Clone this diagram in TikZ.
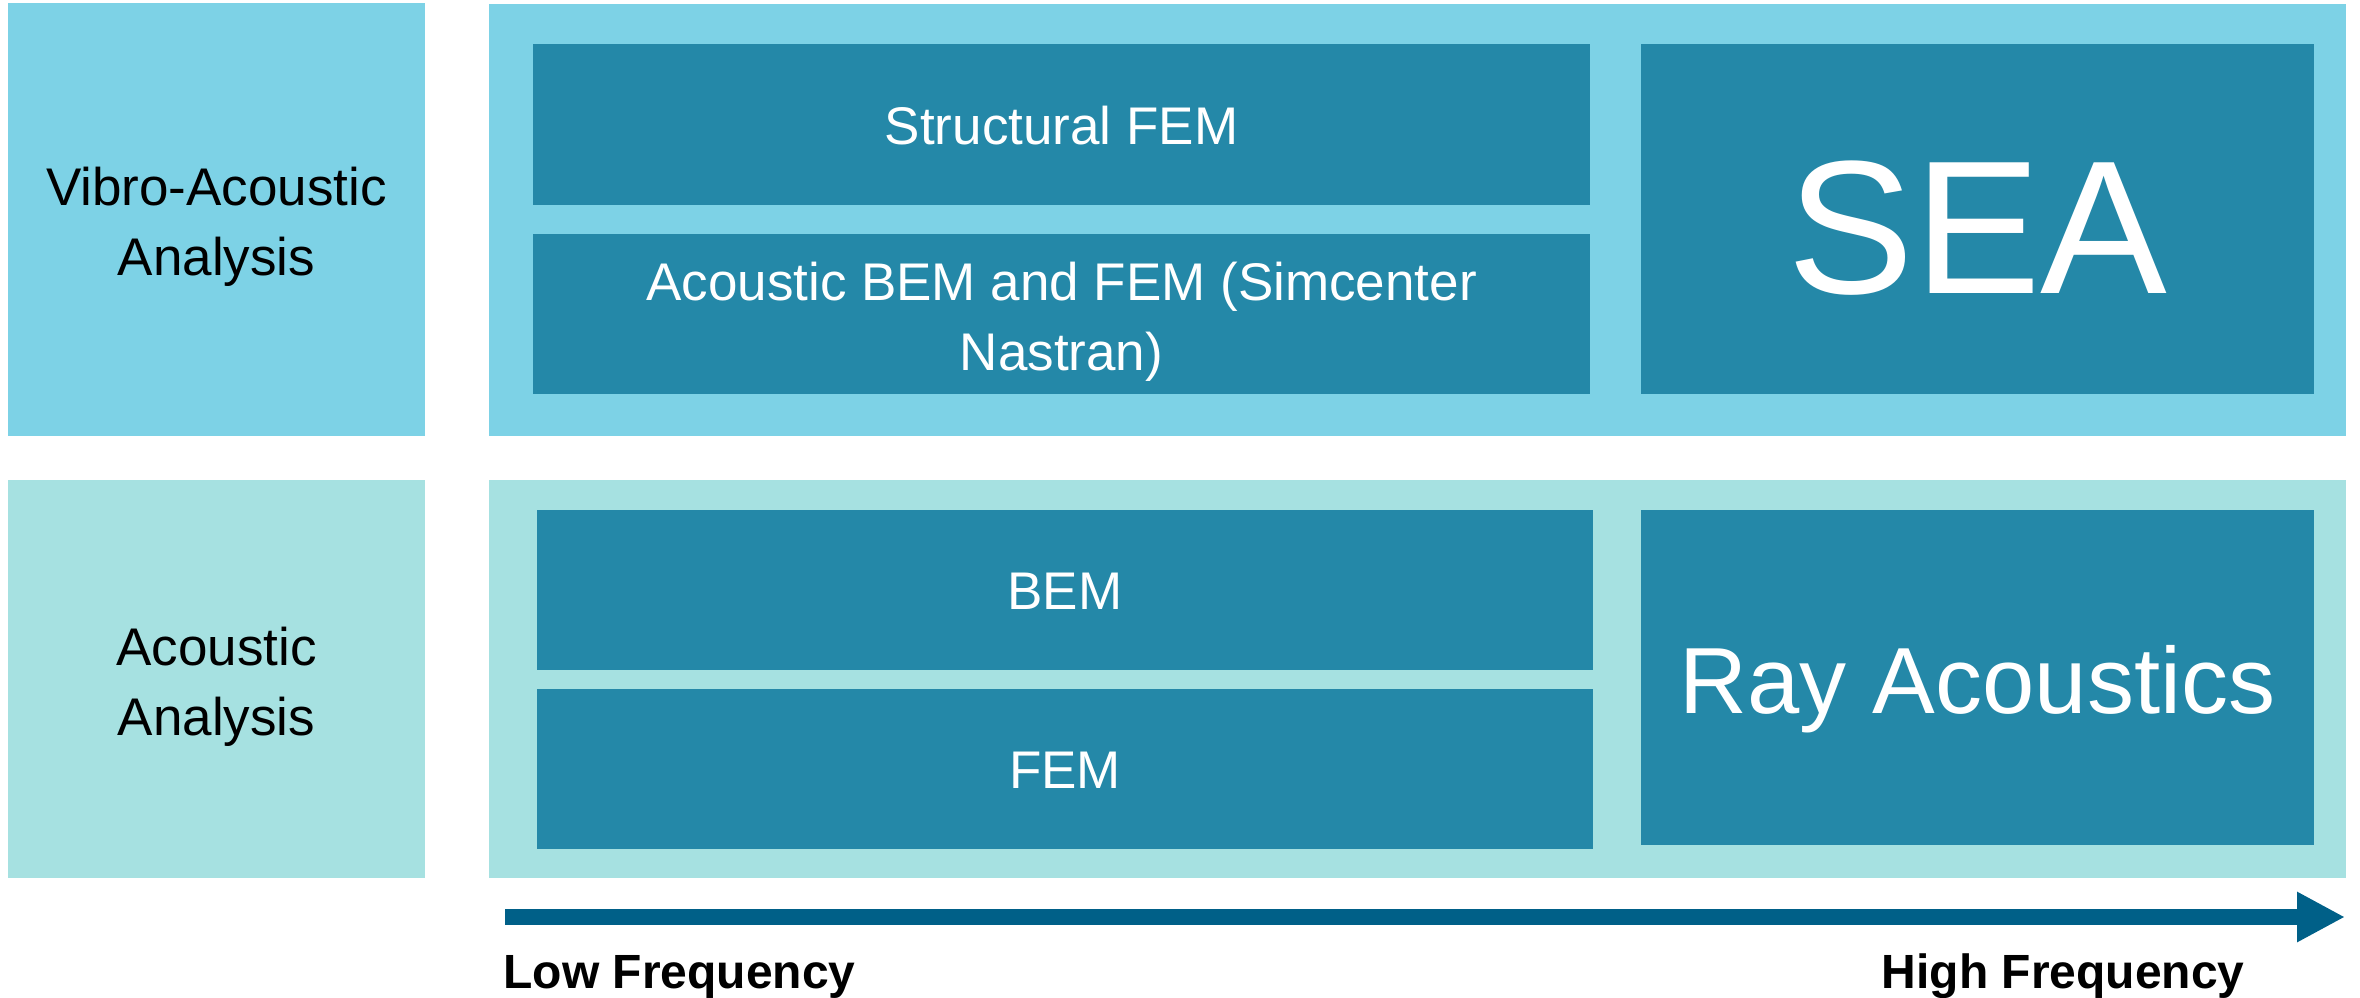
\documentclass[tikz,border=0pt]{standalone}
\usepackage{fontspec}
\setmainfont{Liberation Sans}
\usetikzlibrary{fit,calc,arrows.meta}

\definecolor{vaFill}{HTML}{7DD2E6}
\definecolor{acFill}{HTML}{A6E1E1}
\definecolor{methodFill}{HTML}{2488A8}
\definecolor{freqBlue}{HTML}{006088}

\tikzset{
  box/.style={inner sep=0pt, outer sep=0pt, draw=none},
  vabox/.style={box, fill=vaFill},
  acbox/.style={box, fill=acFill},
  methodbox/.style={box, fill=methodFill},
  rowlabel/.style={inner sep=0pt, anchor=base, align=center, text=black,
    font=\fontsize{26.5}{35}\selectfont},
  methodtext/.style={inner sep=0pt, anchor=base, align=center, text=white,
    font=\fontsize{26.5}{35}\selectfont},
  bigtext/.style={inner sep=0pt, anchor=base, text=white},
  freqtext/.style={inner sep=0pt, text=black, font=\fontsize{24}{28}\selectfont\bfseries},
}

\begin{document}
\begin{tikzpicture}[x=0.5pt, y=-0.5pt]
  \useasboundingbox (0,0) rectangle (2360,997);

  % row headers
  \node[vabox, fit={(8,3) (425,436)}] (vahead) {};
  \node[acbox, fit={(8,480) (425,878)}] (achead) {};

  % row panels
  \node[vabox, fit={(489,4) (2346,436)}] (vapanel) {};
  \node[acbox, fit={(489,480) (2346,878)}] (acpanel) {};

  % method boxes, vibro-acoustic row
  \node[methodbox, fit={(533,44) (1590,205)}] (sfem) {};
  \node[methodbox, fit={(533,234) (1590,394)}] (abem) {};
  \node[methodbox, fit={(1641,44) (2314,394)}] (sea) {};

  % method boxes, acoustic row
  \node[methodbox, fit={(537,510) (1593,670)}] (bem) {};
  \node[methodbox, fit={(537,689) (1593,849)}] (fem) {};
  \node[methodbox, fit={(1641,510) (2314,845)}] (ray) {};

  % texts (two-line nodes sit on the baseline of their last line)
  \node[rowlabel] (vatext) at ($(vahead.center)+(0,55.5)$) {Vibro-Acoustic\\Analysis};
  \node[rowlabel] (actext) at ($(achead.center)+(0,56)$) {Acoustic\\Analysis};
  \node[methodtext] (sfemtext) at ($(sfem.center)+(0,19.5)$) {Structural FEM};
  \node[methodtext] (abemtext) at ($(abem.center)+(0,56)$) {Acoustic BEM and FEM (Simcenter\\Nastran)};
  \node[bigtext, font=\fontsize{95}{100}\selectfont] (seatext) at ($(sea.center)+(0,74)$) {SEA};
  \node[bigtext, font=\fontsize{47}{55}\selectfont] (raytext) at ($(ray.center)+(0,35.5)$) {Ray Acoustics};
  \node[methodtext] (bemtext) at ($(bem.center)+(0,19)$) {BEM};
  \node[methodtext] (femtext) at ($(fem.center)+(0,19)$) {FEM};

  % frequency axis
  \coordinate (low) at (505,917);
  \coordinate (high) at (2345,917);
  \draw[freqBlue, line width=8pt, -{Triangle[length=24pt,width=23.5pt]}] (low) -- (high);
  \node[freqtext, anchor=base west] (lowtext) at (503,988) {Low Frequency};
  \node[freqtext, anchor=base east] (hightext) at (2245,988) {High Frequency};
\end{tikzpicture}
\end{document}
